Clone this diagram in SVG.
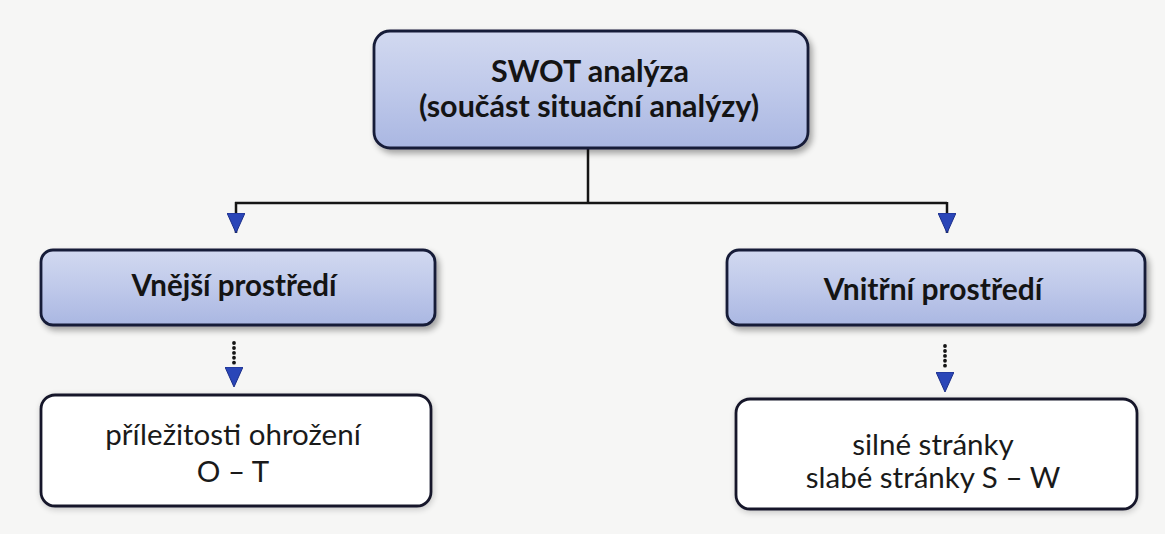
<svg xmlns="http://www.w3.org/2000/svg" width="1165" height="534" viewBox="0 0 1165 534">
  <defs>
    <linearGradient id="blueFill" x1="0" y1="0" x2="0" y2="1">
      <stop offset="0" stop-color="#d2d9f0"/>
      <stop offset="0.5" stop-color="#bfc9ea"/>
      <stop offset="1" stop-color="#aab7e2"/>
    </linearGradient>
    <filter id="shadow" x="-10%" y="-20%" width="125%" height="150%">
      <feGaussianBlur in="SourceAlpha" stdDeviation="3"/>
      <feOffset dx="3" dy="4" result="b"/>
      <feComponentTransfer><feFuncA type="linear" slope="0.35"/></feComponentTransfer>
      <feMerge><feMergeNode/><feMergeNode in="SourceGraphic"/></feMerge>
    </filter>
    <filter id="glow" x="-10%" y="-20%" width="120%" height="140%">
      <feGaussianBlur in="SourceAlpha" stdDeviation="3"/>
      <feOffset dx="1" dy="2" result="b"/>
      <feComponentTransfer><feFuncA type="linear" slope="0.2"/></feComponentTransfer>
      <feMerge><feMergeNode/><feMergeNode in="SourceGraphic"/></feMerge>
    </filter>
    <!-- downward triangle head, tip sits on the path end -->
    <marker id="arrowDown" viewBox="0 0 18 20" refX="9" refY="20" markerWidth="18" markerHeight="20" markerUnits="userSpaceOnUse" orient="0">
      <path d="M0,0 L18,0 L9,20 Z" fill="#2a46b8" stroke="#1c2f8a" stroke-width="1"/>
    </marker>
  </defs>
  <style>
    .head { fill: url(#blueFill); stroke: #161b38; stroke-width: 2.8; filter: url(#shadow); }
    .leaf { fill: #ffffff; stroke: #16182a; stroke-width: 2.8; filter: url(#glow); }
    .bold { font-family: Lato, "Open Sans", "Liberation Sans", sans-serif; font-weight: 700; fill: #141414; text-anchor: middle; }
    .reg { font-family: Lato, "Open Sans", "Liberation Sans", sans-serif; font-weight: 400; fill: #1a1a1a; text-anchor: middle; }
    .line { fill: none; stroke: #151515; stroke-width: 2.5; }
    .dots { fill: none; stroke: #151515; stroke-width: 3.8; stroke-linecap: round; stroke-dasharray: 0.1 4.8; }
  </style>

  <rect width="1165" height="534" fill="#f6f6f5"/>

  <!-- connectors -->
  <g id="connectors">
    <path class="line" d="M588,148 V203 M235,203 H947"/>
    <path class="line" d="M236,202 V233" marker-end="url(#arrowDown)"/>
    <path class="line" d="M947,202 V233" marker-end="url(#arrowDown)"/>
    <path class="dots" d="M234,343 V363"/>
    <path d="M234,367 V387" fill="none" stroke="none" marker-end="url(#arrowDown)"/>
    <path class="dots" d="M945,346 V367"/>
    <path d="M945,372 V392" fill="none" stroke="none" marker-end="url(#arrowDown)"/>
  </g>

  <!-- SWOT root -->
  <g id="node-swot">
    <rect class="head" x="374" y="31" width="434" height="117" rx="16"/>
    <text class="bold" x="590" y="82" font-size="30.5">SWOT analýza</text>
    <text class="bold" x="589" y="117" font-size="30.5">(součást situační analýzy)</text>
  </g>

  <!-- external environment -->
  <g id="node-external">
    <rect class="head" x="41" y="250" width="394" height="75" rx="12"/>
    <text class="bold" x="234" y="296" font-size="29.5">Vnější prostředí</text>
  </g>

  <!-- internal environment -->
  <g id="node-internal">
    <rect class="head" x="727" y="250" width="418" height="75" rx="12"/>
    <text class="bold" x="933" y="300" font-size="30">Vnitřní prostředí</text>
  </g>

  <!-- opportunities and threats -->
  <g id="node-ot">
    <rect class="leaf" x="41" y="395" width="390" height="111" rx="14"/>
    <text class="reg" x="233" y="445" font-size="29.5">příležitosti ohrožení</text>
    <text class="reg" x="233" y="482" font-size="29.5">O – T</text>
  </g>

  <!-- strengths and weaknesses -->
  <g id="node-sw">
    <rect class="leaf" x="736" y="399" width="401" height="110" rx="14"/>
    <text class="reg" x="933" y="455" font-size="29.5">silné stránky</text>
    <text class="reg" x="933" y="488" font-size="29.5">slabé stránky S – W</text>
  </g>
</svg>
